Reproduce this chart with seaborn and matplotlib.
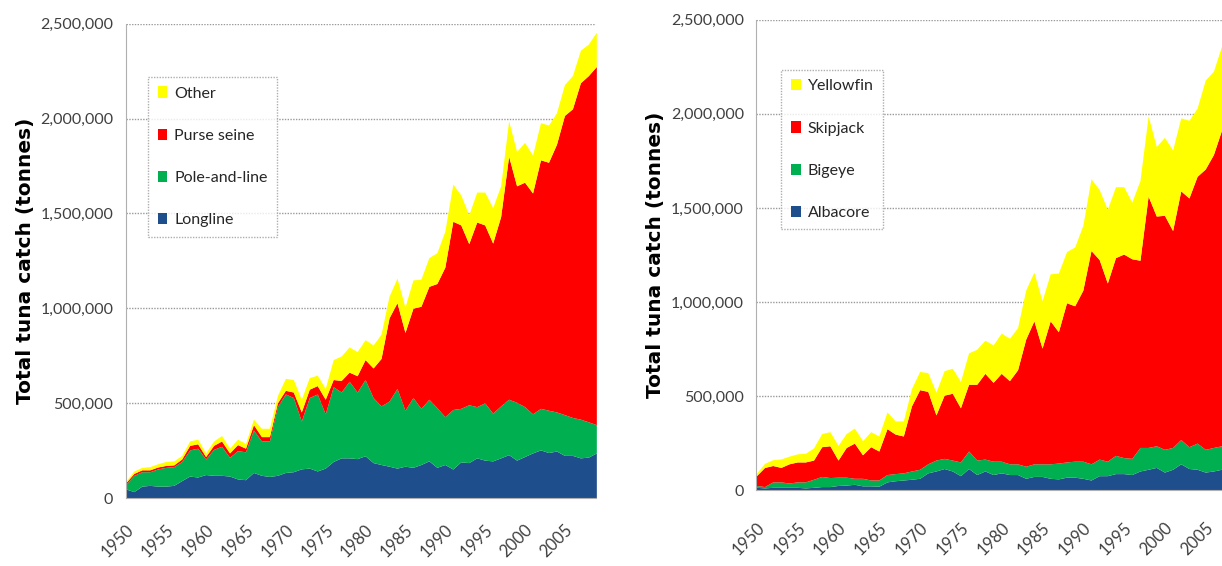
import numpy as np
import pandas as pd
import matplotlib
matplotlib.use("Agg")
import matplotlib.pyplot as plt
import matplotlib.ticker as mticker
import seaborn as sns

# -----------------------------
#  Data (thousand tonnes)
# -----------------------------
years = list(range(1950, 2010))

longline = [48, 34, 63, 67, 63, 63, 67, 92, 116, 111, 124, 120, 120, 116, 101, 97, 135, 120, 114, 120,
            135, 139, 154, 158, 143, 158, 193, 212, 212, 208, 223, 187, 177, 168, 158, 168, 162, 177, 196, 162,
            177, 153, 191, 187, 212, 200, 196, 212, 229, 200, 219, 238, 254, 240, 248, 225, 225, 212, 216, 238]
pole_and_line = [24, 86, 76, 72, 91, 99, 99, 101, 138, 152, 82, 137, 153, 99, 149, 147, 224, 181, 187, 362,
                 414, 391, 252, 372, 406, 286, 394, 347, 404, 351, 402, 343, 309, 343, 420, 295, 368, 296, 325, 315,
                 252, 314, 282, 305, 270, 302, 252, 274, 292, 305, 263, 206, 219, 223, 206, 215, 200, 204, 186, 149]
purse_seine = [10, 10, 10, 10, 10, 10, 9, 13, 24, 23, 13, 21, 28, 23, 32, 19, 28, 23, 23, 20,
               19, 29, 48, 44, 44, 77, 38, 61, 48, 86, 105, 156, 250, 439, 452, 410, 471, 538, 595, 654,
               788, 992, 967, 849, 973, 938, 896, 998, 1281, 1141, 1183, 1164, 1310, 1307, 1411, 1577, 1627, 1773, 1825, 1888]
other_gear = [8, 13, 13, 17, 17, 21, 21, 19, 23, 25, 19, 23, 29, 25, 29, 25, 29, 44, 44, 38,
              63, 66, 67, 61, 55, 57, 105, 129, 133, 127, 105, 121, 128, 114, 129, 134, 149, 143, 152, 162,
              190, 196, 158, 152, 158, 173, 187, 162, 187, 181, 210, 200, 196, 196, 166, 163, 175, 172, 166, 181]

albacore = [15, 12, 15, 15, 15, 15, 12, 15, 19, 19, 25, 27, 31, 23, 23, 21, 44, 50, 54, 58,
            63, 92, 102, 115, 102, 77, 115, 83, 102, 83, 92, 83, 83, 63, 73, 73, 63, 60, 69, 69,
            63, 54, 77, 77, 88, 88, 83, 102, 111, 121, 96, 111, 140, 115, 111, 96, 102, 111, 102, 110]
bigeye = [10, 7, 29, 29, 23, 29, 32, 43, 54, 48, 44, 42, 32, 40, 31, 33, 39, 38, 38, 44,
          48, 48, 58, 54, 58, 73, 93, 77, 63, 71, 62, 57, 57, 64, 67, 67, 77, 84, 81, 85,
          91, 86, 88, 77, 97, 85, 86, 125, 116, 115, 121, 116, 129, 116, 139, 121, 125, 125, 129, 130]
skipjack = [52, 102, 87, 77, 102, 106, 106, 102, 158, 169, 91, 158, 187, 125, 177, 154, 244, 210, 196, 346,
            423, 385, 240, 336, 355, 288, 355, 403, 456, 419, 467, 442, 500, 676, 760, 615, 760, 698, 846, 826,
            909, 1134, 1061, 947, 1051, 1082, 1061, 995, 1336, 1221, 1244, 1153, 1322, 1322, 1418, 1490, 1557, 1678, 1639, 1660]
yellowfin = [13, 22, 31, 45, 41, 43, 46, 65, 70, 75, 78, 74, 80, 75, 80, 80, 89, 70, 80, 92,
             97, 100, 121, 130, 133, 140, 167, 186, 176, 199, 214, 225, 224, 261, 259, 252, 250, 312, 272, 313,
             344, 381, 372, 392, 377, 358, 301, 424, 426, 370, 414, 428, 388, 413, 363, 473, 443, 447, 523, 556]

gear_labels = ["Longline", "Pole-and-line", "Purse seine", "Other"]
species_labels = ["Albacore", "Bigeye", "Skipjack", "Yellowfin"]
layer_colors = ["#1F4E8C", "#00B050", "#FF0000", "#FFFF00"]

# -----------------------------
#  Styling
# -----------------------------
sns.set_style("white")
plt.rcParams["font.family"] = ["Lato", "DejaVu Sans"]

TICK_COLOR = "#404040"
GRID_COLOR = "#9a9a9a"


def draw_panel(ax, df, labels, legend_anchor, xpad):
    ys = [df[name].to_numpy() * 1000 for name in labels]
    ax.stackplot(df["year"], *ys, colors=layer_colors, labels=labels, linewidth=0)

    ax.set_xlim(1950, 2009)
    ax.set_ylim(0, 2_500_000)
    ax.xaxis.set_major_locator(mticker.FixedLocator(range(1950, 2010, 5)))
    ax.yaxis.set_major_locator(mticker.MultipleLocator(500_000))
    ax.yaxis.set_major_formatter(mticker.FuncFormatter(lambda v, _: f"{int(v):,}"))

    ax.grid(axis="y", color=GRID_COLOR, linestyle=(0, (1, 1)), linewidth=1.0)
    ax.set_axisbelow(True)
    for side in ("top", "right"):
        ax.spines[side].set_visible(False)
    ax.spines["left"].set_color("#b0b0b0")
    ax.spines["left"].set_linestyle((0, (1, 1)))
    ax.spines["bottom"].set_color("#b0b0b0")

    ax.tick_params(axis="both", direction="out", length=3, color="#b0b0b0",
                   labelcolor=TICK_COLOR, width=0.8)
    ax.tick_params(axis="y", pad=6, labelsize=11.5)
    ax.tick_params(axis="x", pad=xpad, labelsize=12)
    for lbl in ax.get_xticklabels():
        lbl.set_rotation(45)
        lbl.set_ha("right")
        lbl.set_rotation_mode("anchor")

    ax.set_xlabel("")
    ax.set_ylabel("Total tuna catch (tonnes)", fontsize=14.5, fontweight="bold",
                  family="DejaVu Sans", color="black", labelpad=4)

    handles, leg_labels = ax.get_legend_handles_labels()
    leg = ax.legend(handles[::-1], leg_labels[::-1], loc="upper left",
                    bbox_to_anchor=legend_anchor, borderaxespad=0,
                    frameon=True, fancybox=False, fontsize=11.5,
                    handlelength=0.6, handleheight=0.7, handletextpad=0.45,
                    labelspacing=1.75, borderpad=0.6)
    frame = leg.get_frame()
    frame.set_edgecolor("#9a9a9a")
    frame.set_linestyle((0, (1, 1)))
    frame.set_linewidth(1.0)
    for t in leg.get_texts():
        t.set_color("#262626")


# -----------------------------
#  Figure
# -----------------------------
gear_df = pd.DataFrame({"year": years, "Longline": longline, "Pole-and-line": pole_and_line,
                        "Purse seine": purse_seine, "Other": other_gear})
species_df = pd.DataFrame({"year": years, "Albacore": albacore, "Bigeye": bigeye,
                           "Skipjack": skipjack, "Yellowfin": yellowfin})

fig = plt.figure(figsize=(12.22, 5.66), dpi=100)
ax_left = fig.add_axes([0.103, 0.120, 0.385, 0.838])
ax_right = fig.add_axes([0.619, 0.134, 0.394, 0.831])

draw_panel(ax_left, gear_df, gear_labels, (0.047, 0.888), xpad=14)
draw_panel(ax_right, species_df, species_labels, (0.052, 0.894), xpad=18)

fig.savefig("out.png", dpi=100)
